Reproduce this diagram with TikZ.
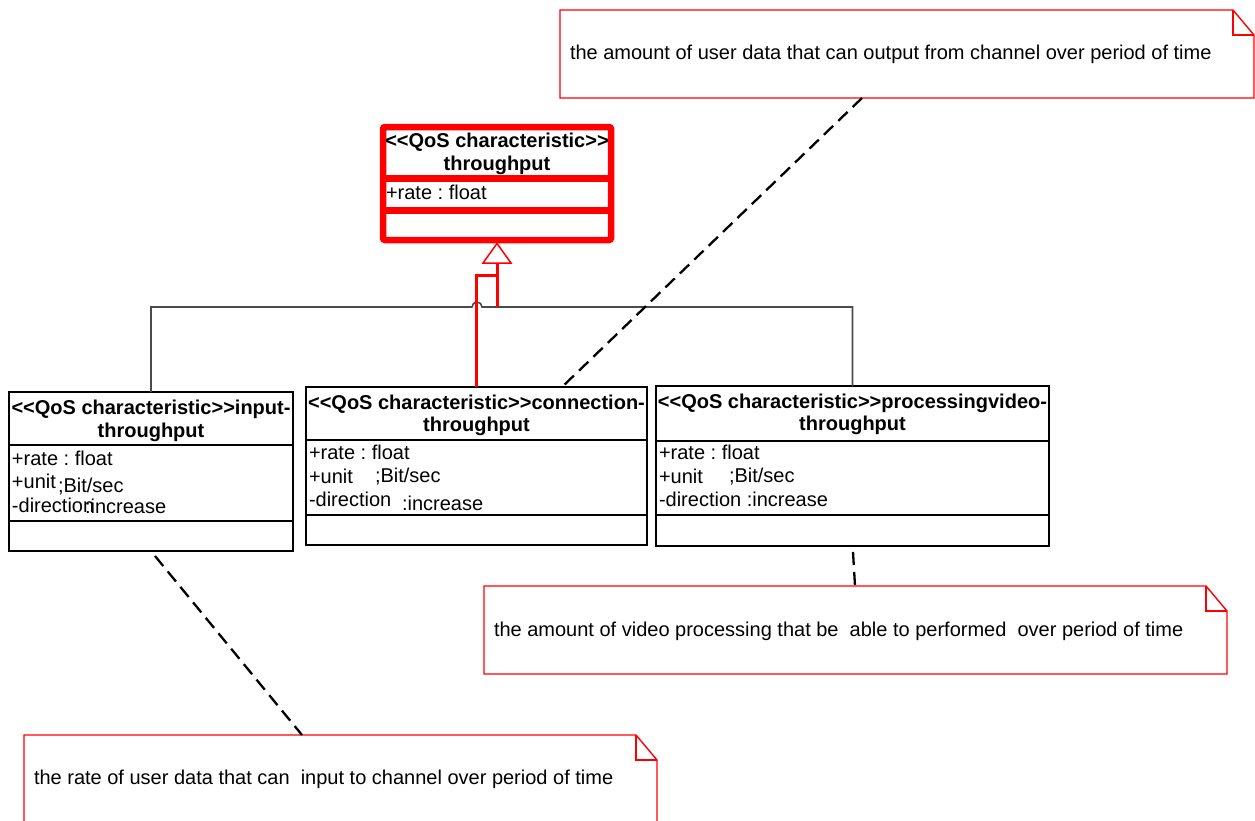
\documentclass[tikz,border=0pt]{standalone}
\usepackage{fontspec}
\setmainfont{Liberation Sans}
\usetikzlibrary{calc}
\frenchspacing
% stereotype brackets kept apart so that << and >> are not turned into guillemets
\newcommand\stL{<\kern0pt<}
\newcommand\stR{>\kern0pt>}
\definecolor{treegrey}{RGB}{75,75,75}
% dog-eared note outline drawn round a named node
\newcommand\dogear[1]{%
  \draw[noteline] (#1.south west) -- (#1.north west) -- ($(#1.north east)+(-21,0)$)
        -- ($(#1.north east)+(0,25)$) -- (#1.south east) -- cycle;
  \draw[noteline] ($(#1.north east)+(-21,0)$) -- ++(0,25) -- ++(21,0);}
\begin{document}
\begin{tikzpicture}[x=1pt,y=-1pt,
  every node/.style={inner sep=0pt, outer sep=0pt},
  clsbox/.style={draw=black, line width=1.2pt},
  clssep/.style={draw=black, line width=1.2pt},
  qosbox/.style={draw=red, line width=6.5pt, rounded corners=2pt},
  qossep/.style={draw=red, line width=6.5pt},
  hdr/.style={font=\fontsize{20}{24}\selectfont\bfseries, anchor=base},
  attr/.style={font=\fontsize{20}{24}\selectfont, anchor=base west},
  notetext/.style={font=\fontsize{20}{24}\selectfont, anchor=base west},
  notebody/.style={draw=none},
  noteline/.style={draw=red, line width=1.4pt},
  gen/.style={draw=red, line width=3pt},
  tree/.style={draw=treegrey, line width=1.6pt},
  anchorline/.style={draw=black, line width=2.3pt, dash pattern=on 13pt off 7pt},
]
\useasboundingbox (0,0) rectangle (1255,820);
\clip (0,0) rectangle (1255,820);
\fill[white] (0,0) rectangle (1255,820);

% ---- base characteristic ----
\node[qosbox, minimum width=228pt, minimum height=113pt] (qos) at (497,183.5) {};
\draw[qossep] (qos.west |- 0,178.7) -- (qos.east |- 0,178.7);
\draw[qossep] (qos.west |- 0,210.3) -- (qos.east |- 0,210.3);
\node[hdr] (qos-st) at (497,147) {\stL QoS characteristic\stR};
\node[hdr] (qos-nm) at (497,170) {throughput};
\node[attr] (qos-a1) at (386,199) {+rate : float};

% ---- derived characteristics ----
\node[clsbox, minimum width=284pt, minimum height=159pt] (inp) at (151,471.5) {};
\draw[clssep] (inp.west |- 0,445) -- (inp.east |- 0,445);
\draw[clssep] (inp.west |- 0,521) -- (inp.east |- 0,521);
\node[hdr] (inp-st) at (151,414.5) {\stL QoS characteristic\stR input-};
\node[hdr] (inp-nm) at (151,437.5) {throughput};
\node[attr] (inp-a1) at (12,465) {+rate : float};
\node[attr] (inp-a2) at (12,488) {+unit};
\node[attr] (inp-a2v) at (58,492) {;Bit/sec};
\node[attr] (inp-a3) at (12,512) {-direction};
\node[attr] (inp-a3v) at (85,513) {:increase};

\node[clsbox, minimum width=341pt, minimum height=158pt] (conn) at (476.5,466) {};
\draw[clssep] (conn.west |- 0,440) -- (conn.east |- 0,440);
\draw[clssep] (conn.west |- 0,515) -- (conn.east |- 0,515);
\node[hdr] (conn-st) at (476.5,409.5) {\stL QoS characteristic\stR connection-};
\node[hdr] (conn-nm) at (476.5,431.5) {throughput};
\node[attr] (conn-a1) at (309,459) {+rate : float};
\node[attr] (conn-a2) at (309,483) {+unit};
\node[attr] (conn-a2v) at (375,482) {;Bit/sec};
\node[attr] (conn-a3) at (309,506) {-direction};
\node[attr] (conn-a3v) at (402,510) {:increase};

\node[clsbox, minimum width=393pt, minimum height=160pt] (proc) at (852.5,466) {};
\draw[clssep] (proc.west |- 0,441) -- (proc.east |- 0,441);
\draw[clssep] (proc.west |- 0,515) -- (proc.east |- 0,515);
\node[hdr] (proc-st) at (852.5,408.5) {\stL QoS characteristic\stR processingvideo-};
\node[hdr] (proc-nm) at (852.5,430.5) {throughput};
\node[attr] (proc-a1) at (659,459) {+rate : float};
\node[attr] (proc-a2) at (659,483) {+unit};
\node[attr] (proc-a2v) at (729,482) {;Bit/sec};
\node[attr] (proc-a3) at (659,506) {-direction :increase};

% ---- generalization tree ----
\coordinate (tip) at (497,243.5);
\coordinate (join) at (497,307);
\draw[tree] (inp.north) -- (inp.north |- join) -- (472,307)
  arc[start angle=180, end angle=0, radius=5pt] -- (proc.north |- join) -- (proc.north);
\draw[gen] (conn.north) -- ++(0,-112) -- (497,275) -- (497,263);
\draw[gen] (497,263) -- (join);
\draw[draw=red, line width=1.5pt, fill=white, line join=miter] (tip) -- (511,263) -- (483,263) -- cycle;

% ---- notes ----
\node[notebody, minimum width=694pt, minimum height=88pt] (tnote) at (907,54) {};
\dogear{tnote}
\node[notetext] (tnote-t) at (570,59) {the amount of user data that can output from channel over period of time};

\node[notebody, minimum width=743pt, minimum height=88pt] (mnote) at (855.5,630) {};
\dogear{mnote}
\node[notetext] (mnote-t) at (494,636) {the amount of video processing that be\ \ able to performed\ \ over period of time};

\node[notebody, minimum width=633pt, minimum height=88pt] (bnote) at (340.5,779) {};
\dogear{bnote}
\node[notetext] (bnote-t) at (34,784) {the rate of user data that can\ \ input to channel over period of time};

% ---- note anchors ----
\draw[anchorline] ($(tnote.south west)+(302,0)$) -- ($(conn.north west)+(256,0)$);
\draw[anchorline] ($(proc.south)+(0.5,6)$) -- ($(mnote.north west)+(371,0)$);
\draw[anchorline] ($(inp.south)+(4,5)$) -- ($(bnote.north west)+(278,0)$);
\end{tikzpicture}
\end{document}
